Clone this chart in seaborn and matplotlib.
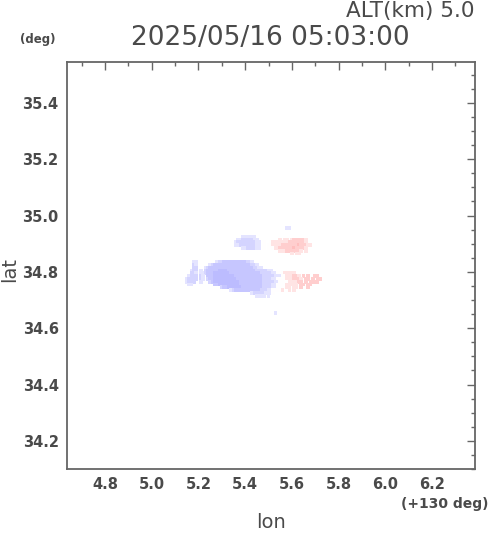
import numpy as np
import pandas as pd
import matplotlib
matplotlib.use("Agg")
import matplotlib.pyplot as plt
import seaborn as sns
from matplotlib.ticker import MultipleLocator, FormatStrFormatter

# ---------------- data ----------------
title_text = "2025/05/16 05:03:00"
alt_text = "ALT(km) 5.0"
xlim = (4.637, 6.384)
ylim = (34.10, 35.545)

# grid of the echo field (0.01 deg cells)
grid_lon = [round(5.15 + 0.01 * i, 2) for i in range(60)]
grid_lat = [round(34.965 - 0.01 * j, 3) for j in range(33)]

# level code -> velocity-like value
level_values = {"a": -6.3, "b": -5.4, "c": -4.0, "d": -2.5,
                "e": 0.0, "f": 2.5, "g": 4.5, "h": 6.0}

# (row, start column, level string)
echo_rows = [
    (1, 43, "dd"),
    (4, 24, "dddddd"),
    (5, 22, "ddcccccdd"), (5, 40, "f.ff"), (5, 45, "fgggggf"),
    (6, 21, "dccccccccdd"), (6, 33, "e..ef"), (6, 38, "ffffffgggggggf"),
    (7, 21, "ddcccccccdd.e"), (7, 35, "eeffffggggggghgggff"),
    (8, 24, "ddccccdd"), (8, 33, "e.e"), (8, 37, "effgggggghggggf"),
    (9, 40, "fffggggggf"), (9, 51, "f"),
    (10, 45, "f.ff"),
    (13, 3, "dd"), (13, 13, "dccbbbbbbbbbbccd"),
    (14, 3, "cd"), (14, 10, "dcbbbbbbbbbbbbbbbbccd"),
    (15, 3, "cc"), (15, 8, "dcbbbbbbbbbbbbbbbbbbbccdd"),
    (16, 2, "dcc"), (16, 6, "d"), (16, 8, "cbbbbbaaaabbbbbbbbbbbbcccccdd"),
    (17, 2, "ccd"), (17, 6, "dd"), (17, 8, "cbbbaaaaaaabbbbbbbbbbbbbcccccdde"), (17, 41, "efffff"),
    (18, 1, "dccc"), (18, 6, "cd"), (18, 9, "bbbaaaaaaaaabbbbbbbbbbbbcccccdddee"),
    (18, 43, "fffggf"), (18, 50, "g.g"), (18, 55, "gg"),
    (19, 0, "dcccc"), (19, 6, "cd"), (19, 9, "cbbaaaaaaaaaabbbbbbbbbbbccccddeeeef"),
    (19, 44, "ffgggf.gg.g.gg"),
    (20, 0, "dccc"), (20, 6, "d"), (20, 10, "cbaaaaaaaaaaabbbbbbbbbbcccccddeeeeff"),
    (20, 46, "ffgg.g.gggg"),
    (21, 1, "dd"), (21, 12, "bbaaaaaaaaabbbbbbbbbbccccddeeeeff"), (21, 45, "fff.gg.gg"),
    (22, 15, "cbbaaaaaabbbbbbbbbccccddeeeeff"), (22, 46, "ff.g..g"),
    (23, 19, "dcbbbbbbbbbbbcccddeeeef"), (23, 44, "f.f"),
    (24, 28, "dcccccddde"),
    (25, 30, "dddd.d"),
    (31, 38, "d"),
]

recs = []
for row, col, s in echo_rows:
    for k, ch in enumerate(s):
        if ch != ".":
            recs.append({"lon": grid_lon[col + k], "lat": grid_lat[row],
                         "v": level_values[ch]})
df = pd.DataFrame(recs)

# ---------------- figure ----------------
sns.set_style("white")
plt.rcParams["font.family"] = ["DejaVu Sans"]
gray = "#4a4a4a"

fig = plt.figure(figsize=(4.9, 5.33), dpi=100)
ax = fig.add_axes([67 / 490, 1 - 469 / 533, 408 / 490, 407 / 533])

sns.scatterplot(data=df, x="lon", y="lat", hue="v", palette="bwr",
                hue_norm=(-24, 24), marker="s", s=7, linewidth=0,
                legend=False, ax=ax)

ax.set_xlim(*xlim)
ax.set_ylim(*ylim)
ax.set_xlabel("")
ax.set_ylabel("")
ax.xaxis.set_major_locator(MultipleLocator(0.2))
ax.xaxis.set_minor_locator(MultipleLocator(0.1))
ax.yaxis.set_major_locator(MultipleLocator(0.2))
ax.yaxis.set_minor_locator(MultipleLocator(0.05))
ax.xaxis.set_major_formatter(FormatStrFormatter("%.1f"))
ax.yaxis.set_major_formatter(FormatStrFormatter("%.1f"))
ax.tick_params(which="both", direction="in", top=True, right=True,
               color="#666666", width=1)
ax.tick_params(which="major", length=6, labelsize=10.5, labelcolor=gray)
ax.tick_params(which="minor", length=3)
ax.tick_params(axis="x", pad=6)
ax.tick_params(axis="y", pad=6)
for lab in ax.get_xticklabels() + ax.get_yticklabels():
    lab.set_fontweight("bold")
for sp in ax.spines.values():
    sp.set_color("#666666")
    sp.set_linewidth(1.3)

fig.text(270 / 490, 1 - 38 / 533, title_text, ha="center", va="center",
         fontsize=19, color=gray)
fig.text(474 / 490, 1 - 11 / 533, alt_text, ha="right", va="center",
         fontsize=15.5, color=gray)
fig.text(38 / 490, 1 - 40 / 533, "(deg)", ha="center", va="center",
         fontsize=8.5, fontweight="bold", color=gray)
fig.text(488 / 490, 1 - 504 / 533, "(+130 deg)", ha="right", va="center",
         fontsize=10, fontweight="bold", color=gray)
fig.text(271 / 490, 1 - 523 / 533, "lon", ha="center", va="center",
         fontsize=14, color=gray)
fig.text(10 / 490, 1 - 270 / 533, "lat", ha="center", va="center",
         fontsize=14, color=gray, rotation=90)

fig.savefig("out.png", dpi=100)
